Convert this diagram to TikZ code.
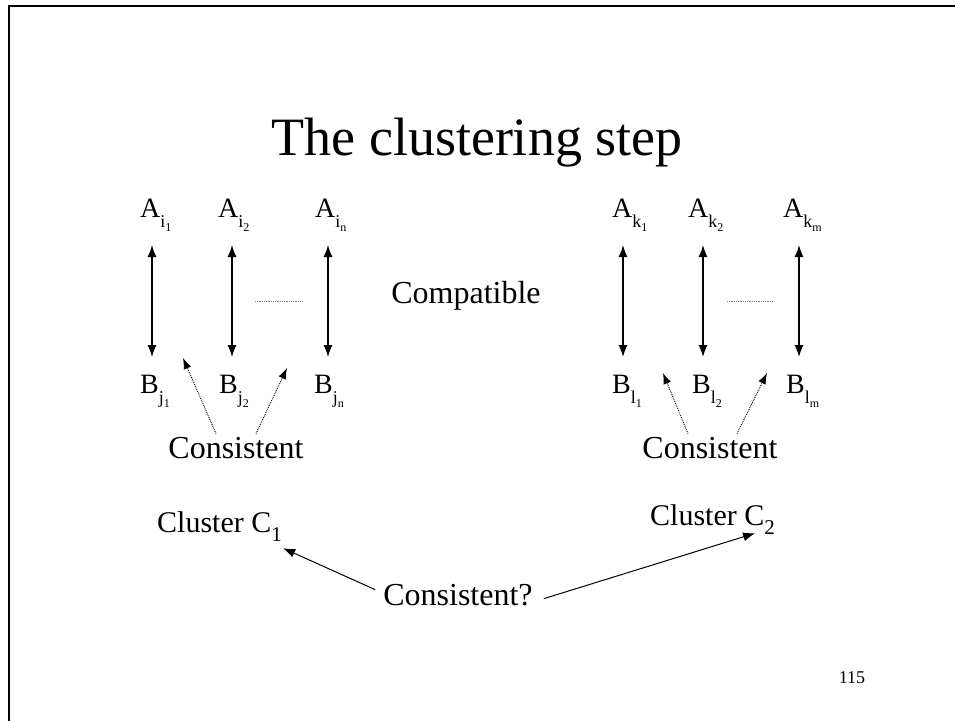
\documentclass[tikz,border=0pt]{standalone}
\usepackage{fontspec}
\setmainfont{Liberation Serif}
\usetikzlibrary{positioning,arrows,arrows.meta}
\tikzset{>={Latex[length=12pt,width=9pt]}}
% lowered subscript with a second, smaller one inside
\newcommand\lowsub[2]{\raisebox{-10pt}{\fontsize{18}{18}\selectfont #1\raisebox{-4pt}{\fontsize{12}{12}\selectfont #2}}}

\begin{document}
\begin{tikzpicture}[x=1pt,y=-1pt,
    word/.style={inner sep=0pt, anchor=base, font=\fontsize{32}{36}\selectfont},
    sym/.style={inner sep=0pt, anchor=base west, font=\fontsize{28}{32}\selectfont},
    pair/.style={<->, line width=1.3pt},
    hint/.style={-{Latex[length=11pt,width=8pt]}, densely dotted, line width=0.9pt},
    gap/.style={densely dotted, gray, line width=0.8pt}]
  \useasboundingbox (0,0) rectangle (955,720);
  \draw[line width=2pt] (8.5,730) -- (8.5,6) -- (965,6);
  \node[inner sep=0pt, anchor=base, font=\fontsize{54}{60}\selectfont] (title) at (477,155) {The clustering step};

  % left group
  \node[sym] (a1) at (140,217) {A\lowsub{i}{1}};
  \node[sym] (a2) at (218,217) {A\lowsub{i}{2}};
  \node[sym] (a3) at (315,217) {A\lowsub{i}{n}};
  \node[sym] (b1) at (140,393) {B\lowsub{j}{1}};
  \node[sym] (b2) at (219,393) {B\lowsub{j}{2}};
  \node[sym] (b3) at (314,393) {B\lowsub{j}{n}};
  % right group
  \node[sym] (a4) at (612,217) {A\lowsub{k}{1}};
  \node[sym] (a5) at (688,217) {A\lowsub{k}{2}};
  \node[sym] (a6) at (783,217) {A\lowsub{k}{m}};
  \node[sym] (b4) at (612,393) {B\lowsub{l}{1}};
  \node[sym] (b5) at (692,393) {B\lowsub{l}{2}};
  \node[sym] (b6) at (786,393) {B\lowsub{l}{m}};

  \foreach \n/\dx in {1/12,2/14,3/13,4/11,5/15,6/16}{
    \coordinate (top\n) at ([xshift=\dx pt,yshift=-28pt]a\n.base west);
    \coordinate (bot\n) at (top\n |- b\n.base west);
    \draw[pair] (top\n) -- ([yshift=36pt]bot\n);
  }

  \draw[gap] (255,301) -- (302,301);
  \draw[gap] (727,301) -- (773,301);
  \node[word] (compat) at (466,303) {Compatible};

  \node[word] (cons1) at (236,458) {Consistent};
  \node[word] (cons2) at (710,458) {Consistent};
  \coordinate (t1) at (183,358);
  \coordinate (t2) at (287,368);
  \coordinate (t3) at (663,373);
  \coordinate (t4) at (767,373);
  \draw[hint] ([xshift=-20pt,yshift=3pt]cons1.north) -- (t1);
  \draw[hint] ([xshift=20pt,yshift=3pt]cons1.north) -- (t2);
  \draw[hint] ([xshift=-22pt,yshift=3pt]cons2.north) -- (t3);
  \draw[hint] ([xshift=27pt,yshift=3pt]cons2.north) -- (t4);

  \node[word, anchor=base west, font=\fontsize{30}{34}\selectfont] (c1) at (157,532) {Cluster C\raisebox{-9pt}{\fontsize{21}{21}\selectfont 1}};
  \node[word, anchor=base west, font=\fontsize{30}{34}\selectfont] (c2) at (650,525) {Cluster C\raisebox{-9pt}{\fontsize{21}{21}\selectfont 2}};
  \node[word] (ask) at (458,605) {Consistent?};
  \draw[->, line width=1pt] ([xshift=-8pt,yshift=5pt]ask.west) -- ([xshift=1pt,yshift=-7pt]c1.south east);
  \draw[->, line width=1pt] ([xshift=11pt,yshift=-4pt]ask.east) -- ([xshift=-20pt,yshift=1pt]c2.south east);

  \node[inner sep=0pt, font=\fontsize{18}{20}\selectfont] (page) at (852,678) {115};
\end{tikzpicture}
\end{document}
